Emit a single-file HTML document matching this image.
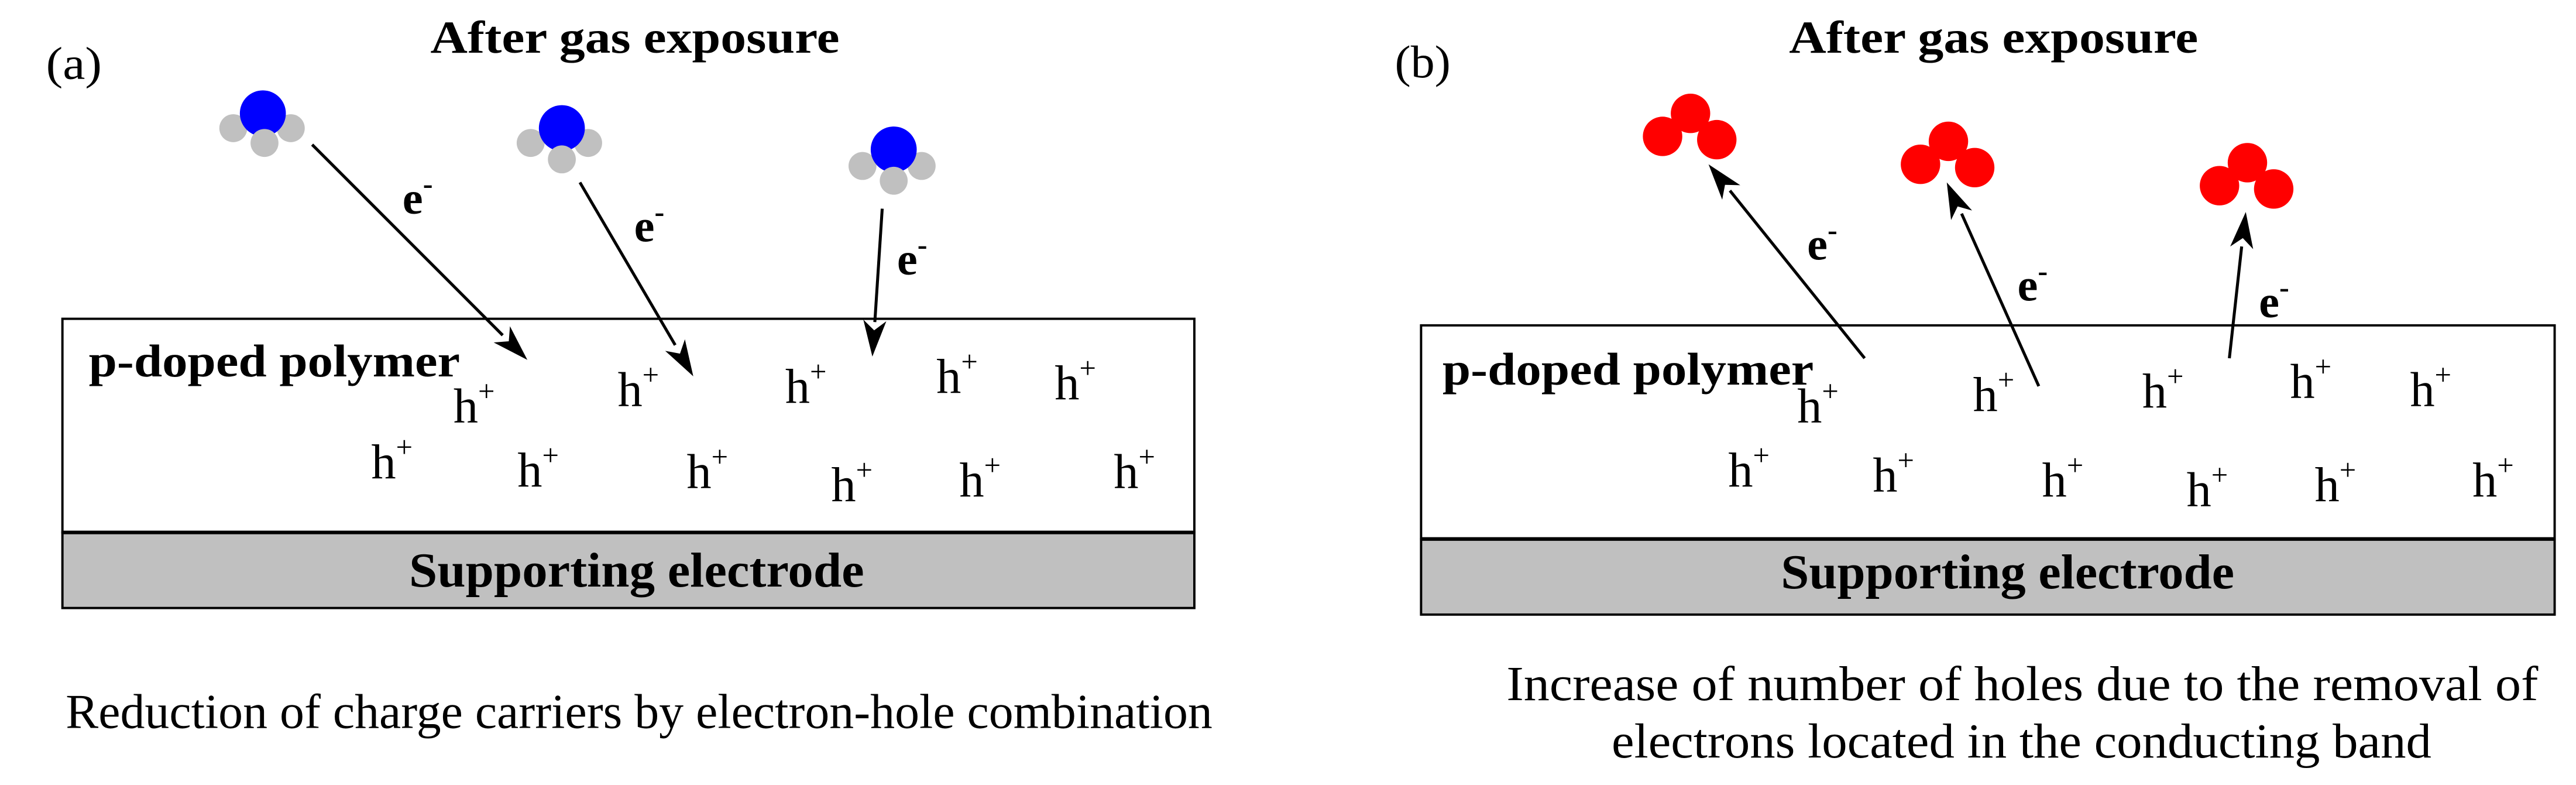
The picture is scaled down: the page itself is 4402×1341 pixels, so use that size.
<!DOCTYPE html>
<html><head><meta charset="utf-8"><style>
html,body{margin:0;padding:0;background:#fff;}
svg{display:block;}
svg text{font-family:"Liberation Serif","Times New Roman","DejaVu Serif",serif;fill:#000;}
.b{font-weight:bold;}
</style></head><body>
<svg width="4402" height="1341" viewBox="0 0 1568 477.7" preserveAspectRatio="none" xmlns="http://www.w3.org/2000/svg" font-family="Liberation Serif, DejaVu Serif, serif">
<!-- Panel a -->
<text x="28" y="48" font-size="28" textLength="34" lengthAdjust="spacingAndGlyphs">(a)</text>
<text class="b" x="262" y="32" font-size="28" textLength="249" lengthAdjust="spacingAndGlyphs">After gas exposure</text>
<rect x="38" y="194" width="689" height="130" fill="#fff" stroke="#000" stroke-width="1.4"/>
<rect x="38" y="324" width="689" height="46" fill="#c0c0c0" stroke="#000" stroke-width="1.4"/>
<line x1="38" y1="324" x2="727" y2="324" stroke="#000" stroke-width="2.2"/>
<text class="b" x="54" y="229" font-size="28" textLength="226" lengthAdjust="spacingAndGlyphs">p-doped polymer</text>
<text class="b" x="249" y="357" font-size="30" textLength="277" lengthAdjust="spacingAndGlyphs">Supporting electrode</text>
<text x="40" y="443" font-size="30" textLength="698" lengthAdjust="spacingAndGlyphs">Reduction of charge carriers by electron-hole combination</text>
<g fill="#c0c0c0">
<circle cx="142" cy="78" r="8.5"/><circle cx="177" cy="78" r="8.5"/>
<circle cx="323" cy="87" r="8.5"/><circle cx="358" cy="87" r="8.5"/>
<circle cx="525" cy="101" r="8.5"/><circle cx="561" cy="101" r="8.5"/>
</g>
<g fill="#0000ff">
<ellipse cx="160" cy="69" rx="14" ry="14"/>
<ellipse cx="342" cy="78" rx="14" ry="14"/>
<ellipse cx="544" cy="91" rx="14" ry="14"/>
</g>
<g fill="#c0c0c0">
<circle cx="161" cy="87" r="8.5"/><circle cx="342" cy="97" r="8.5"/><circle cx="544" cy="110" r="8.5"/>
</g>
<g font-size="28">
<text x="245" y="130" class="b">e<tspan font-size="18" dy="-12">-</tspan></text>
<text x="386" y="147" class="b">e<tspan font-size="18" dy="-12">-</tspan></text>
<text x="546" y="167" class="b">e<tspan font-size="18" dy="-12">-</tspan></text>
</g>
<g font-size="30">
<text x="276" y="257">h<tspan font-size="18" dy="-13">+</tspan></text>
<text x="376" y="247">h<tspan font-size="18" dy="-13">+</tspan></text>
<text x="478" y="245">h<tspan font-size="18" dy="-13">+</tspan></text>
<text x="570" y="239">h<tspan font-size="18" dy="-13">+</tspan></text>
<text x="642" y="243">h<tspan font-size="18" dy="-13">+</tspan></text>
<text x="226" y="291">h<tspan font-size="18" dy="-13">+</tspan></text>
<text x="315" y="296">h<tspan font-size="18" dy="-13">+</tspan></text>
<text x="418" y="297">h<tspan font-size="18" dy="-13">+</tspan></text>
<text x="506" y="305">h<tspan font-size="18" dy="-13">+</tspan></text>
<text x="584" y="302">h<tspan font-size="18" dy="-13">+</tspan></text>
<text x="678" y="297">h<tspan font-size="18" dy="-13">+</tspan></text>
</g>
<!-- Panel b -->
<text x="849" y="47" font-size="28" textLength="34" lengthAdjust="spacingAndGlyphs">(b)</text>
<text class="b" x="1089" y="32" font-size="28" textLength="249" lengthAdjust="spacingAndGlyphs">After gas exposure</text>
<rect x="865" y="198" width="690" height="130" fill="#fff" stroke="#000" stroke-width="1.4"/>
<rect x="865" y="328" width="690" height="46" fill="#c0c0c0" stroke="#000" stroke-width="1.4"/>
<line x1="865" y1="328" x2="1555" y2="328" stroke="#000" stroke-width="2.2"/>
<text class="b" x="878" y="234" font-size="28" textLength="226" lengthAdjust="spacingAndGlyphs">p-doped polymer</text>
<text class="b" x="1084" y="358" font-size="30" textLength="276" lengthAdjust="spacingAndGlyphs">Supporting electrode</text>
<text x="917" y="426" font-size="30" textLength="628" lengthAdjust="spacingAndGlyphs">Increase of number of holes due to the removal of</text>
<text x="981" y="461" font-size="30" textLength="499" lengthAdjust="spacingAndGlyphs">electrons located in the conducting band</text>
<g fill="#ff0000">
<circle cx="1029" cy="69" r="12"/><circle cx="1012" cy="83" r="12"/><circle cx="1045" cy="85" r="12"/>
<circle cx="1186" cy="86" r="12"/><circle cx="1169" cy="100" r="12"/><circle cx="1202" cy="102" r="12"/>
<circle cx="1368" cy="99" r="12"/><circle cx="1351" cy="113" r="12"/><circle cx="1384" cy="115" r="12"/>
</g>
<g font-size="28">
<text x="1100" y="158" class="b">e<tspan font-size="18" dy="-12">-</tspan></text>
<text x="1228" y="183" class="b">e<tspan font-size="18" dy="-12">-</tspan></text>
<text x="1375" y="193" class="b">e<tspan font-size="18" dy="-12">-</tspan></text>
</g>
<g font-size="30">
<text x="1094" y="257">h<tspan font-size="18" dy="-13">+</tspan></text>
<text x="1201" y="250">h<tspan font-size="18" dy="-13">+</tspan></text>
<text x="1304" y="248">h<tspan font-size="18" dy="-13">+</tspan></text>
<text x="1394" y="242">h<tspan font-size="18" dy="-13">+</tspan></text>
<text x="1467" y="247">h<tspan font-size="18" dy="-13">+</tspan></text>
<text x="1052" y="296">h<tspan font-size="18" dy="-13">+</tspan></text>
<text x="1140" y="299">h<tspan font-size="18" dy="-13">+</tspan></text>
<text x="1243" y="302">h<tspan font-size="18" dy="-13">+</tspan></text>
<text x="1331" y="308">h<tspan font-size="18" dy="-13">+</tspan></text>
<text x="1409" y="305">h<tspan font-size="18" dy="-13">+</tspan></text>
<text x="1505" y="302">h<tspan font-size="18" dy="-13">+</tspan></text>
</g>
<!-- Arrows (drawn last) -->
<g stroke="#000" stroke-width="1.8">
<line x1="190" y1="88" x2="306" y2="204"/>
<line x1="353" y1="111" x2="411" y2="210"/>
<line x1="537" y1="127" x2="532.5" y2="196"/>
<line x1="1135" y1="218" x2="1053" y2="116"/>
<line x1="1241" y1="235" x2="1194" y2="130"/>
<line x1="1357" y1="218" x2="1364.5" y2="150"/>
</g>
<g fill="#000">
<polygon points="321,219 300.5,208.4 309.7,207.7 310.4,198.5"/>
<polygon points="422,229 404.9,213.5 413.9,215.2 416.9,206.5"/>
<polygon points="531,217 525.5,194.5 532.1,201 539.5,195.5"/>
<polygon points="1040,100 1059.3,112.7 1050,112.5 1048.3,121.5"/>
<polygon points="1185,111 1200.4,128.1 1191.6,125.6 1187.6,133.9"/>
<polygon points="1367,129 1371.5,151.6 1365.2,144.9 1357.5,150"/>
</g>
</svg>
</body></html>
